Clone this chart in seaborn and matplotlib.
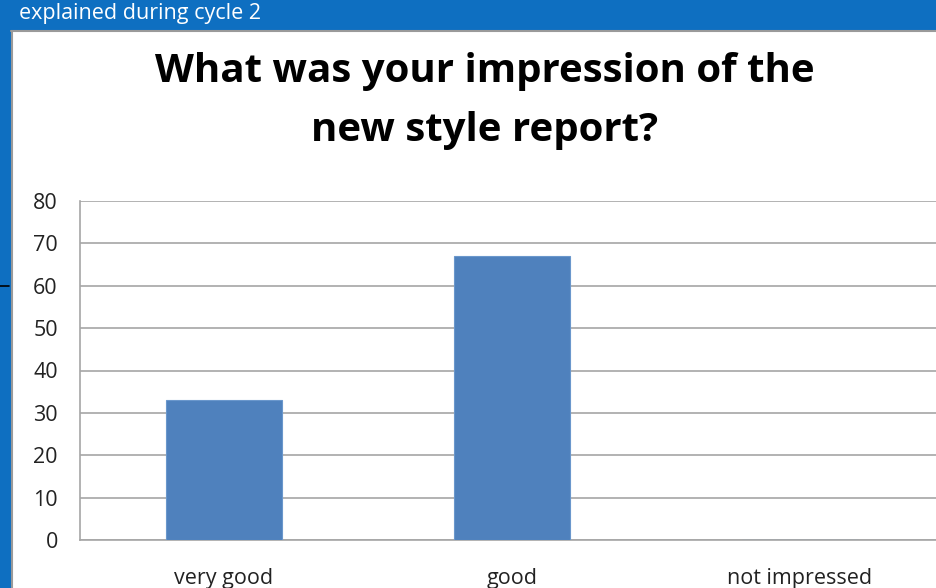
import matplotlib
matplotlib.use("Agg")
import matplotlib.pyplot as plt
import seaborn as sns
import pandas as pd
from matplotlib.patches import Rectangle
from matplotlib.lines import Line2D

categories = ["very good", "good", "not impressed"]
values = [33, 67, 0]
yticks = [0, 10, 20, 30, 40, 50, 60, 70, 80]
title = "What was your impression of the\nnew style report?"
header = "explained during cycle 2"

sns.set_theme(style="white")
plt.rcParams["font.family"] = ["Open Sans", "DejaVu Sans"]

W, H = 936, 588
fig = plt.figure(figsize=(W / 100, H / 100), dpi=100)
fig.patch.set_facecolor("white")

def fx(x): return x / W
def fy(y): return 1 - y / H

blue = "#0E6FC1"
# header bar and left strip
fig.patches.append(Rectangle((0, fy(30)), 1, 30 / H, transform=fig.transFigure, color=blue, zorder=0))
fig.patches.append(Rectangle((0, 0), fx(11), 1, transform=fig.transFigure, color=blue, zorder=0))
fig.lines.append(Line2D([fx(11), 1], [fy(30.5), fy(30.5)], transform=fig.transFigure, color="#9a9a9a", lw=1.5))
fig.lines.append(Line2D([fx(11.5), fx(11.5)], [0, fy(30.5)], transform=fig.transFigure, color="#9a9a9a", lw=1.5))
fig.lines.append(Line2D([0, fx(9)], [fy(286), fy(286)], transform=fig.transFigure, color="black", lw=1.2))
fig.text(fx(19), fy(14), header, color="white", fontsize=15.5, va="center", ha="left")

fig.text(fx(485), fy(101), title, ha="center", va="center", fontsize=29, fontweight="bold",
         color="black", linespacing=1.65)

ax = fig.add_axes([fx(80), fy(540), (944 - 80) / W, (540 - 201) / H])
df = pd.DataFrame({"category": categories, "value": values})
sns.barplot(data=df, x="category", y="value", order=categories, color="#4F81BD",
            width=0.4, edgecolor="#6a97cc", linewidth=0.8, saturation=1, ax=ax, zorder=3)
ax.set_xlim(-0.5, 2.5)
ax.set_ylim(0, 80)
ax.set_yticks(yticks)
ax.set_yticklabels([str(t) for t in yticks], fontsize=15.5, color="#222222")
ax.set_xlabel("")
ax.set_ylabel("")
ax.tick_params(axis="x", labelsize=15.5, colors="#222222", pad=20, length=0)
ax.tick_params(axis="y", length=0, pad=16)
ax.yaxis.grid(True, color="#a6a6a6", lw=1.2, zorder=0)
ax.set_axisbelow(True)
for s in ["top", "right"]:
    ax.spines[s].set_visible(False)
for s in ["left", "bottom"]:
    ax.spines[s].set_color("#a6a6a6")
    ax.spines[s].set_linewidth(1.2)

fig.savefig("out.png", dpi=100)
